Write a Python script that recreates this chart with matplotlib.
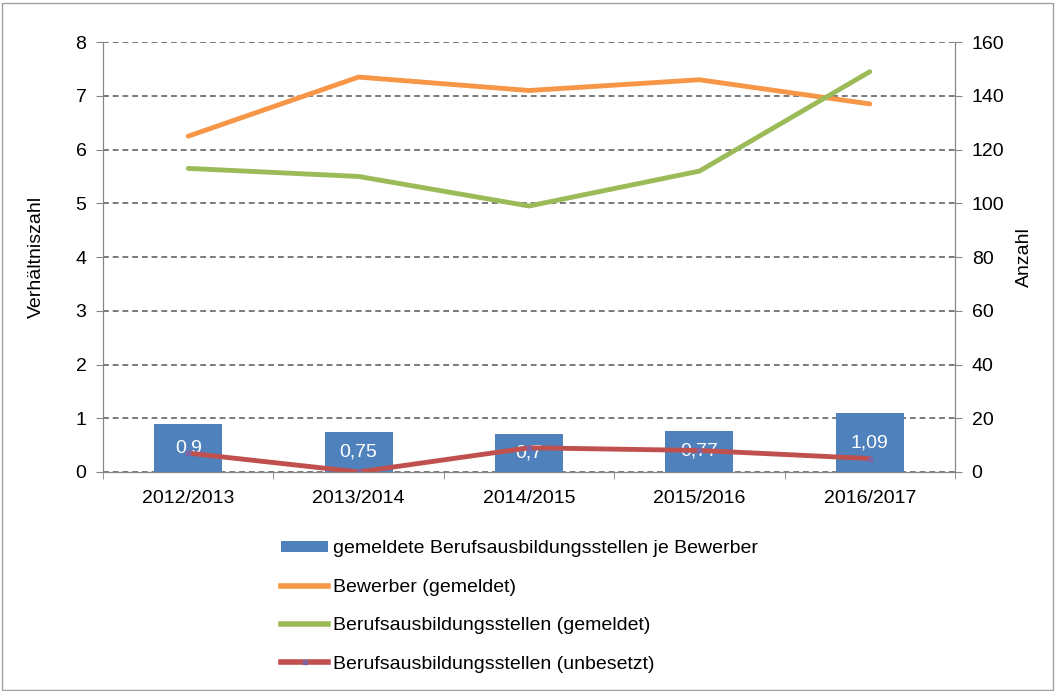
import matplotlib
matplotlib.use("Agg")
import matplotlib.pyplot as plt
import numpy as np
from matplotlib.patches import Patch, Rectangle
from matplotlib.lines import Line2D

plt.rcParams["font.family"] = ["Liberation Sans", "DejaVu Sans"]

years = ["2012/2013", "2013/2014", "2014/2015", "2015/2016", "2016/2017"]
ratio = [0.9, 0.75, 0.7, 0.77, 1.09]
bewerber = [125, 147, 142, 146, 137]
stellen_gemeldet = [113, 110, 99, 112, 149]
stellen_unbesetzt = [7, 0, 9, 8, 5]

BLUE = "#4F81BD"
ORANGE = "#F79646"
GREEN = "#9BBB59"
RED = "#C0504D"
AXIS = "#868686"
FS = 14

fig = plt.figure(figsize=(10.57, 6.91), dpi=100)
fig.patches.append(Rectangle((0.002, 0.002), 0.994, 0.994, transform=fig.transFigure,
                             fill=False, edgecolor="#A0A0A0", linewidth=1))
ax = fig.add_axes([0.0975, 0.317, 0.806, 0.622])
ax2 = ax.twinx()

x = np.arange(len(years))
ax.bar(x, ratio, width=0.4, color=BLUE, zorder=2)
for xi, v in zip(x, ratio):
    ax.text(xi, v / 2, f"{v:g}".replace(".", ","), ha="center", va="center",
            color="white", fontsize=FS, zorder=5)

ax2.plot(x, bewerber, color=ORANGE, lw=3.5, solid_capstyle="round")
ax2.plot(x, stellen_gemeldet, color=GREEN, lw=3.5, solid_capstyle="round")
ax2.plot(x, stellen_unbesetzt, color=RED, lw=3.5, solid_capstyle="round",
         marker="s", ms=3, mfc="#8064A2", mec="#8064A2")

ax.set_xlim(-0.5, len(years) - 0.5)
ax.set_ylim(0, 8)
ax2.set_ylim(0, 160)
ax.set_yticks(range(0, 9))
ax2.set_yticks(range(0, 161, 20))
ax.set_xticks(x)
ax.set_xticklabels(years)
ax.set_xticks(np.arange(-0.5, len(years)), minor=True)
ax.tick_params(axis="x", which="major", length=0, pad=13, labelsize=FS)
ax.tick_params(axis="x", which="minor", length=5, color=AXIS, direction="out")
ax.tick_params(axis="y", length=5, color=AXIS, labelsize=FS, pad=7)
ax2.tick_params(axis="y", length=5, color=AXIS, labelsize=FS, pad=7)

ax.yaxis.grid(True, linestyle=(0, (3, 2)), color="#7A7A7A", linewidth=1.4, zorder=0)
ax.set_axisbelow(True)

for a in (ax, ax2):
    a.spines["top"].set_visible(False)
    for s in ("left", "right", "bottom"):
        a.spines[s].set_color(AXIS)
ax.set_zorder(ax2.get_zorder() - 1)
ax2.patch.set_visible(False)

ax.set_ylabel("Verhältniszahl", fontsize=FS, labelpad=22)
ax2.set_ylabel("Anzahl", fontsize=FS, labelpad=8)

handles = [
    Patch(facecolor=BLUE, edgecolor="none"),
    Line2D([], [], color=ORANGE, lw=4),
    Line2D([], [], color=GREEN, lw=4),
    Line2D([], [], color=RED, lw=4, marker="s", ms=3, mfc="#8064A2", mec="#8064A2"),
]
labels = [
    "gemeldete Berufsausbildungsstellen je Bewerber",
    "Bewerber (gemeldet)",
    "Berufsausbildungsstellen (gemeldet)",
    "Berufsausbildungsstellen (unbesetzt)",
]
fig.legend(handles, labels, loc="upper left", bbox_to_anchor=(0.257, 0.232),
           frameon=False, fontsize=FS, handlelength=2.4, handleheight=0.5,
           handletextpad=0.25, labelspacing=1.1, borderpad=0)

fig.savefig("out.png", dpi=100)
